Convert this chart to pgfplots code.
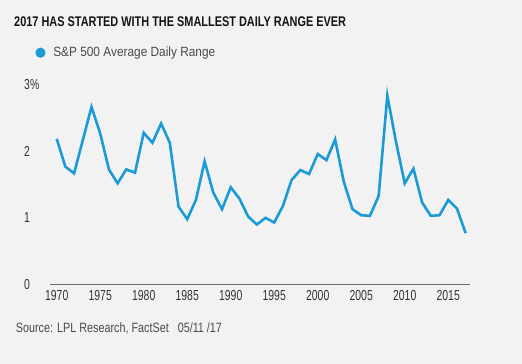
\documentclass[border=0pt]{standalone}
\usepackage{fontspec}
\setmainfont{Liberation Sans}
\newfontfamily\titlef{Liberation Sans}[FakeStretch=0.78]
\newfontfamily\legf{Liberation Sans}[FakeStretch=0.885]
\newfontfamily\srcf{Liberation Sans}[FakeStretch=0.8]
\newfontfamily\tickf{Liberation Sans}[FakeStretch=0.72]
\usepackage{pgfplots}
\pgfplotsset{compat=1.18}
\definecolor{bg}{HTML}{F2F2F2}
\definecolor{lplblue}{HTML}{1B9AD8}
\definecolor{txt}{HTML}{4A4A4A}
\definecolor{axl}{HTML}{6E6E6E}
\begin{document}
\begin{tikzpicture}
\fill[bg] (0,0) rectangle (522pt,364pt);
\node[anchor=base west, inner sep=0, font=\titlef\bfseries\fontsize{14}{16}\selectfont, text=black!92] at (14pt,337.3pt) {2017 HAS STARTED WITH THE SMALLEST DAILY RANGE EVER};
\node[anchor=base west, inner sep=0, font=\srcf\fontsize{13.5}{15}\selectfont, text=txt] at (15.7pt,31.7pt) {Source: LPL Research, FactSet\ \ \ 05/11 /17};
\begin{axis}[
  at={(50pt,79.7pt)}, anchor=south west,
  scale only axis, width=420pt, height=199.3pt,
  xmin=1969.23, xmax=2017.5, ymin=0, ymax=3,
  axis x line*=bottom, axis y line*=left,
  x axis line style={draw=axl, line width=1pt, -},
  y axis line style={draw=none},
  major tick length=0pt,
  xtick={1970,1975,...,2015},
  ytick={0,1,2,3}, yticklabels={0,1,2,3\%},
  /pgf/number format/1000 sep={},
  /pgf/number format/assume math mode=true,
  tick label style={font=\tickf\fontsize{14.5}{16}\selectfont, text=black!80},
  yticklabel style={anchor=west, inner sep=0pt, xshift=-26pt},
  xticklabel style={yshift=-3pt},
  legend style={at={(axis description cs:-0.035,1.162)}, anchor=west, draw=none, fill=none, inner sep=0pt,
    font=\legf\fontsize{13.4}{15}\selectfont, text=txt},
  legend image code/.code={\fill[lplblue] (0pt,0pt) circle (3.7pt); \path (9.5pt,0pt);},
  clip=false,
]
\addplot[lplblue, line width=2.6pt, line join=miter] table {
x y
1970 2.19
1971 1.77
1972 1.67
1973 2.17
1974 2.67
1975 2.27
1976 1.73
1977 1.52
1978 1.73
1979 1.68
1980 2.28
1981 2.13
1982 2.42
1983 2.13
1984 1.17
1985 0.98
1986 1.27
1987 1.85
1988 1.38
1989 1.13
1990 1.46
1991 1.29
1992 1.02
1993 0.90
1994 1.00
1995 0.93
1996 1.18
1997 1.57
1998 1.72
1999 1.66
2000 1.96
2001 1.87
2002 2.18
2003 1.54
2004 1.13
2005 1.04
2006 1.03
2007 1.33
2008 2.84
2009 2.14
2010 1.52
2011 1.74
2012 1.23
2013 1.03
2014 1.04
2015 1.27
2016 1.14
2017 0.77
};
\addlegendentry{S\&P 500 Average Daily Range}
\end{axis}
\end{tikzpicture}
\end{document}
